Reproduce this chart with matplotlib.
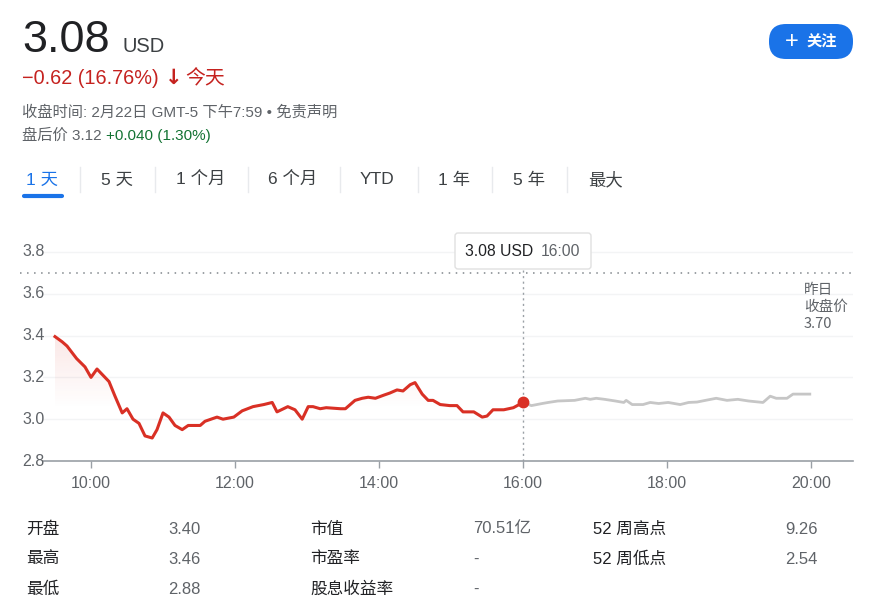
import numpy as np
import matplotlib
matplotlib.use("Agg")
import matplotlib.pyplot as plt
from matplotlib.patches import FancyBboxPatch
from matplotlib.transforms import blended_transform_factory

plt.rcParams['font.family'] = ['Liberation Sans', 'Noto Sans CJK SC', 'DejaVu Sans']

# Regular session (red) and after-hours (gray) prices
times_regular = ["9:30", "9:36", "9:40", "9:44", "9:48", "9:55", "10:00", "10:05", "10:10",
                 "10:15", "10:20", "10:26", "10:30", "10:35", "10:40", "10:45", "10:51",
                 "10:55", "11:00", "11:05", "11:10", "11:16", "11:21", "11:31", "11:35",
                 "11:45", "11:50", "11:59", "12:06", "12:15", "12:24", "12:31", "12:35",
                 "12:44", "12:50", "12:56", "13:01", "13:05", "13:11", "13:16", "13:28",
                 "13:32", "13:40", "13:46", "13:51", "13:57", "14:04", "14:09", "14:15",
                 "14:20", "14:26", "14:30", "14:36", "14:41", "14:45", "14:51", "14:59",
                 "15:05", "15:10", "15:19", "15:26", "15:30", "15:35", "15:44", "15:52",
                 "16:00"]
price_regular = [3.395, 3.37, 3.35, 3.32, 3.29, 3.25, 3.20, 3.24, 3.21,
                 3.18, 3.11, 3.03, 3.05, 3.00, 2.98, 2.92, 2.91,
                 2.95, 3.03, 3.01, 2.97, 2.95, 2.97, 2.97, 2.99,
                 3.01, 3.00, 3.01, 3.04, 3.06, 3.07, 3.08, 3.035,
                 3.06, 3.045, 3.00, 3.06, 3.06, 3.05, 3.055, 3.05,
                 3.05, 3.09, 3.10, 3.105, 3.10, 3.115, 3.125, 3.14,
                 3.135, 3.165, 3.175, 3.12, 3.09, 3.09, 3.07, 3.065,
                 3.065, 3.035, 3.035, 3.01, 3.015, 3.045, 3.045, 3.055,
                 3.08]
times_after = ["16:00", "16:07", "16:16", "16:21", "16:29", "16:43", "16:52", "16:56",
               "17:01", "17:08", "17:17", "17:24", "17:26", "17:31", "17:40", "17:46",
               "17:53", "18:01", "18:11", "18:18", "18:25", "18:32", "18:41", "18:50",
               "18:59", "19:08", "19:20", "19:26", "19:31", "19:40", "19:45", "19:59"]
price_after = [3.08, 3.065, 3.075, 3.08, 3.087, 3.09, 3.10, 3.095,
               3.10, 3.095, 3.087, 3.08, 3.09, 3.07, 3.07, 3.08,
               3.075, 3.08, 3.07, 3.08, 3.082, 3.09, 3.10, 3.09,
               3.095, 3.087, 3.08, 3.11, 3.10, 3.10, 3.12, 3.12]

prev_close = 3.70
last_price = 3.08
last_time = "16:00"

y_ticks = [2.8, 3.0, 3.2, 3.4, 3.6, 3.8]
x_tick_labels = ["10:00", "12:00", "14:00", "16:00", "18:00", "20:00"]

tabs = ["1 天", "5 天", "1 个月", "6 个月", "YTD", "1 年", "5 年", "最大"]

stat_labels_1 = ["开盘", "最高", "最低"]
stat_values_1 = ["3.40", "3.46", "2.88"]
stat_labels_2 = ["市值", "市盈率", "股息收益率"]
stat_values_2 = ["70.51亿", "-", "-"]
stat_labels_3 = ["52 周高点", "52 周低点"]
stat_values_3 = ["9.26", "2.54"]

RED = "#d93025"
GRAY_LINE = "#c6c6c6"
DARK = "#202124"
MID = "#5f6368"
BLUE = "#1a73e8"
GREEN = "#137333"

W, H = 870, 613


def minutes(s):
    h, m = s.split(":")
    return int(h) * 60 + int(m)


def px(x, y):
    return x / W, 1 - y / H


t_reg = np.array([minutes(s) for s in times_regular])
t_aft = np.array([minutes(s) for s in times_after])
p_reg = np.array(price_regular)
p_aft = np.array(price_after)

fig = plt.figure(figsize=(W / 100, H / 100), dpi=100)
fig.patch.set_facecolor("white")

# ---- header ----
fig.text(*px(22, 52), "3.08", fontsize=32.5, color=DARK, va="baseline")
fig.text(*px(122, 52), "USD", fontsize=14.5, color="#3c4043", va="baseline")
fig.text(*px(22, 84), "−0.62 (16.76%)", fontsize=14.3, color="#c5221f", va="baseline")
fig.text(*px(165, 84), "↓", fontsize=15, color="#c5221f", va="baseline",
         fontweight="bold", family=["DejaVu Sans"])
fig.text(*px(185, 84), "今天", fontsize=14.3, color="#c5221f", va="baseline",
         family=["Noto Sans CJK SC"])
fig.text(*px(22, 117), "收盘时间: 2月22日 GMT-5 下午7:59 • 免责声明", fontsize=11,
         color=MID, va="baseline")
fig.text(*px(22, 140), "盘后价 3.12", fontsize=11, color=MID, va="baseline")
fig.text(*px(106, 140), "+0.040 (1.30%)", fontsize=11, color=GREEN, va="baseline")

# follow button
btn = FancyBboxPatch((769, H - 59), 84, 35, boxstyle="round,pad=0,rounding_size=17",
                     transform=None, facecolor=BLUE, edgecolor="none")
fig.patches.append(btn)
fig.text(*px(792, 42), "+", fontsize=17, color="white", ha="center", va="center")
fig.text(*px(822, 42), "关注", fontsize=11, color="white", ha="center", va="center",
         fontweight="bold")

# range tabs
tab_x = [26, 101, 176, 268, 360, 438, 513, 588]
for i, (label, x) in enumerate(zip(tabs, tab_x)):
    fig.text(*px(x, 180), label, fontsize=12.5, va="center",
             color=BLUE if i == 0 else "#3c4043")
for x in [80, 155, 248, 340, 418, 492, 567]:
    fig.add_artist(plt.Line2D([x / W, x / W], [1 - 167 / H, 1 - 192 / H],
                              transform=fig.transFigure, color="#e8eaed", lw=1))
fig.add_artist(plt.Line2D([24 / W, 62 / W], [1 - 196 / H, 1 - 196 / H],
                          transform=fig.transFigure, color=BLUE, lw=3,
                          solid_capstyle="round"))

# ---- chart ----
ax = fig.add_axes([43 / W, 1 - 461 / H, 810 / W, 217 / H])
ax.set_facecolor("none")

# gradient fill under the regular-session line
fill = ax.fill_between(t_reg, p_reg, 2.8, color="none", lw=0)
grad = np.zeros((100, 1, 4))
grad[..., :3] = matplotlib.colors.to_rgb(RED)
grad[:, 0, 3] = np.linspace(0.0, 0.13, 100)
im = ax.imshow(grad, extent=[t_reg[0], t_reg[-1], 3.05, 3.45], origin="lower",
               aspect="auto", zorder=1)
im.set_clip_path(fill.get_paths()[0], transform=ax.transData)

ax.plot(t_aft, p_aft, color=GRAY_LINE, lw=2.0, zorder=3, solid_joinstyle="round")
ax.plot(t_reg, p_reg, color=RED, lw=2.2, zorder=4, solid_joinstyle="round")
ax.plot([minutes(last_time)], [last_price], "o", color=RED, ms=7.5, zorder=5)

for y in y_ticks[1:]:
    ax.axhline(y, color="#f3f4f5", lw=1, zorder=0)

# previous close dotted line
ax.axhline(prev_close, xmin=-0.028, xmax=1, color="#80868b", lw=1.1,
           dashes=(1, 3.6), clip_on=False, zorder=2)
ax.text(1200 - 6, 3.70 - 0.05, "昨日\n收盘价\n3.70", fontsize=10.5, color=MID,
        va="top", ha="left", linespacing=1.25, family=["Noto Sans CJK SC"])

ax.plot([minutes(last_time)] * 2, [2.8, 3.715], color="#9aa0a6", lw=1,
        dashes=(1.5, 2.5), zorder=2, clip_on=False)

ax.set_xlim(560, 1235)
ax.set_ylim(2.8, 3.838)
ax.set_xticks([minutes(s) for s in x_tick_labels])
ax.set_xticklabels(x_tick_labels, fontsize=11.5, color=MID)
ax.tick_params(axis="x", length=5, width=1, color="#9aa0a6", pad=6)
ax.set_yticks([])
for s in ["top", "right", "left"]:
    ax.spines[s].set_visible(False)
ax.spines["bottom"].set_color("#9aa0a6")
ax.spines["bottom"].set_linewidth(1.2)

trans = blended_transform_factory(fig.transFigure, ax.transData)
for y in y_ticks:
    fig.text(22 / W, y, f"{y:.1f}", transform=trans, fontsize=11.5, color=MID,
             va="center", ha="left")

# tooltip
tip = FancyBboxPatch((455, H - 269), 136, 36, boxstyle="round,pad=0,rounding_size=3",
                     transform=None, facecolor="white", edgecolor="#e0e0e0", lw=1)
fig.patches.append(tip)
fig.text(*px(465, 252), "3.08 USD", fontsize=11.3, color=DARK, va="center")
fig.text(*px(541, 252), "16:00", fontsize=11.3, color=MID, va="center")

# ---- stats table ----
row_y = [529, 559, 589]
for i, y in enumerate(row_y):
    fig.text(*px(26, y), stat_labels_1[i], fontsize=12, color=DARK, va="center")
    fig.text(*px(168, y), stat_values_1[i], fontsize=12, color=MID, va="center")
    fig.text(*px(310, y), stat_labels_2[i], fontsize=12, color=DARK, va="center")
    fig.text(*px(473, y), stat_values_2[i], fontsize=12, color=MID, va="center")
    if i < len(stat_labels_3):
        fig.text(*px(593, y), stat_labels_3[i], fontsize=12, color=DARK, va="center")
        fig.text(*px(818, y), stat_values_3[i], fontsize=12, color=MID, va="center",
                 ha="right")

fig.savefig("out.png", dpi=100)
